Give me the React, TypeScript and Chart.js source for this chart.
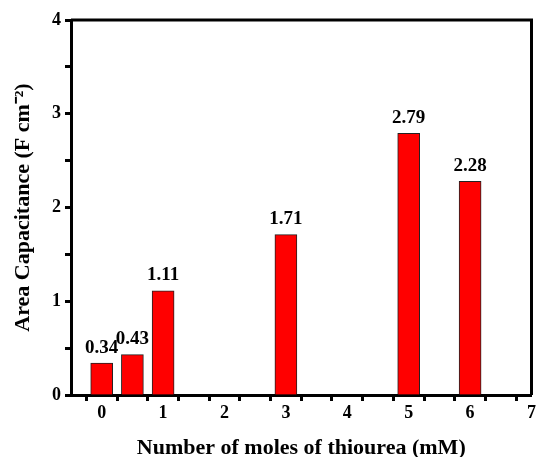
import React, { useEffect, useRef } from "react";
import { Chart, registerables } from "chart.js";

Chart.register(...registerables);

const moles = [0, 0.5, 1, 3, 5, 6];
const capacitance = [0.34, 0.43, 1.11, 1.71, 2.79, 2.28];
const xTitle = "Number of moles of thiourea (mM)";
const yTitle = "Area Capacitance (F cm\u207B\u00B2)";

const FONT = "'Liberation Serif', 'Times New Roman', serif";

const framePlugin = {
  id: "frame",
  afterDraw(chart: any) {
    const { ctx, chartArea } = chart;
    ctx.save();
    ctx.strokeStyle = "#000";
    ctx.lineWidth = 3;
    ctx.beginPath();
    ctx.moveTo(chartArea.left, chartArea.top);
    ctx.lineTo(chartArea.right, chartArea.top);
    ctx.lineTo(chartArea.right, chartArea.bottom);
    ctx.stroke();
    ctx.restore();
  },
};

const labelPlugin = {
  id: "barLabels",
  afterDatasetsDraw(chart: any) {
    const { ctx } = chart;
    const meta = chart.getDatasetMeta(0);
    ctx.save();
    ctx.font = `bold 19px ${FONT}`;
    ctx.fillStyle = "#000";
    ctx.textAlign = "center";
    ctx.textBaseline = "bottom";
    meta.data.forEach((el: any, i: number) => {
      ctx.fillText(capacitance[i].toFixed(2), el.x, el.y - 6);
    });
    ctx.restore();
  },
};

export default function App() {
  const ref = useRef<HTMLCanvasElement>(null);
  useEffect(() => {
    document.body.style.margin = "0";
    const chart = new Chart(ref.current!, {
      type: "bar",
      data: {
        datasets: [
          {
            data: moles.map((x, i) => ({ x, y: capacitance[i] })),
            backgroundColor: "#ff0000",
            borderColor: "#222",
            borderWidth: 1,
            barThickness: 22,
          },
        ],
      },
      options: {
        responsive: false,
        animation: false,
        layout: { padding: { top: 20, right: 3, left: 0, bottom: 0 } },
        plugins: { legend: { display: false }, tooltip: { enabled: false } },
        scales: {
          x: {
            type: "linear",
            min: -0.5,
            max: 7,
            offset: false,
            afterFit(scale: any) {
              scale.height = 62;
            },
            ticks: {
              stepSize: 0.5,
              autoSkip: false,
              maxRotation: 0,
              color: "#000",
              padding: 2,
              font: { family: FONT, size: 18, weight: "bold" },
              callback: (v: any) => (Number.isInteger(v) ? String(v) : ""),
            },
            grid: {
              drawOnChartArea: false,
              drawTicks: true,
              tickLength: 6,
              tickWidth: 3,
              tickColor: "#000",
            },
            border: { display: true, width: 3, color: "#000" },
            title: {
              display: true,
              text: xTitle,
              color: "#000",
              font: { family: FONT, size: 22, weight: "bold" },
              padding: { top: 0, bottom: -5 },
            },
          },
          y: {
            min: 0,
            max: 4,
            afterFit(scale: any) {
              scale.width = 71;
            },
            ticks: {
              stepSize: 0.5,
              autoSkip: false,
              color: "#000",
              padding: 4,
              font: { family: FONT, size: 18, weight: "bold" },
              callback: (v: any) => (Number.isInteger(v) ? String(v) : ""),
            },
            grid: {
              drawOnChartArea: false,
              drawTicks: true,
              tickLength: 6,
              tickWidth: 3,
              tickColor: "#000",
            },
            border: { display: true, width: 3, color: "#000" },
            title: {
              display: true,
              text: yTitle,
              color: "#000",
              font: { family: FONT, size: 22, weight: "bold" },
              padding: { top: 10, bottom: 0 },
            },
          },
        },
      } as any,
      plugins: [framePlugin, labelPlugin],
    });
    return () => chart.destroy();
  }, []);
  return <canvas ref={ref} width={538} height={457} />;
}
